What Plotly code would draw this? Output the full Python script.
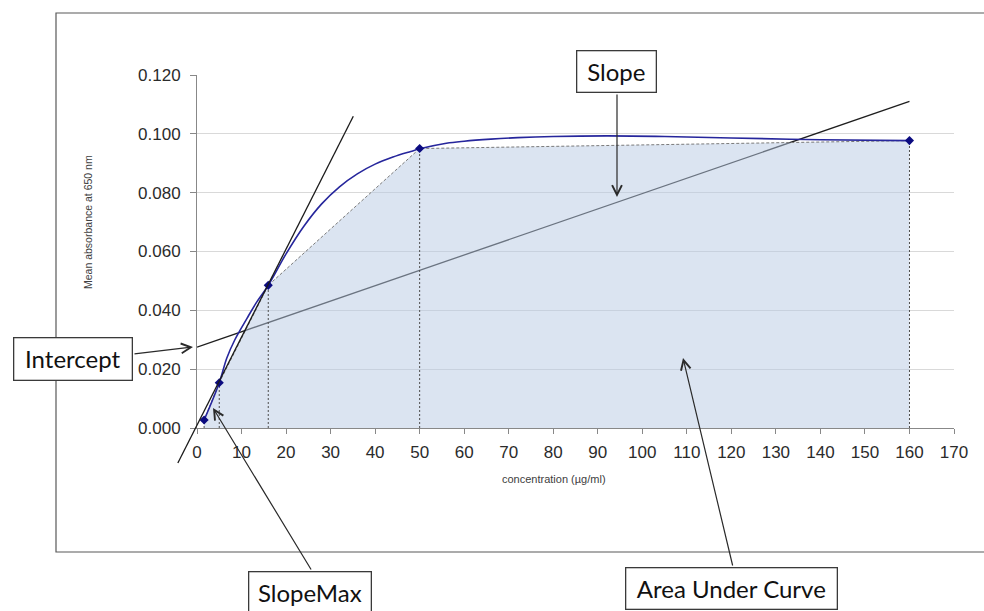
import plotly.graph_objects as go

# Measured absorbance at each concentration
conc = [1.6, 5, 16, 50, 160]
absorbance = [0.0027, 0.0154, 0.0485, 0.0950, 0.0977]

# Smoothed response curve, sampled along its length
curve_x = [1.6, 5, 6.7, 8.5, 11.2, 13.4, 16, 20, 24, 28, 32, 36, 40, 44,
           48, 50, 56, 60, 66, 72, 80, 92, 105, 120, 140, 160]
curve_y = [0.0027, 0.0154, 0.0238, 0.0300, 0.0372, 0.0428, 0.0485, 0.0592,
           0.0686, 0.0762, 0.0820, 0.0864, 0.0897, 0.0921, 0.0940, 0.0949,
           0.0968, 0.0975, 0.0982, 0.0987, 0.0991, 0.0993, 0.0991, 0.0986,
           0.0980, 0.0977]

# Linear regression line across the data ("Slope" / "Intercept")
slope_x = [0, 160]
slope_y = [0.0275, 0.1110]

# Steepest tangent line through the 5 and 16 µg/ml points ("SlopeMax")
smax_x = [-4.3, 35.1]
smax_y = [-0.0119, 0.1060]

x_ticks = list(range(0, 171, 10))
y_ticks = [0.000, 0.020, 0.040, 0.060, 0.080, 0.100, 0.120]

X_RANGE = [0, 170]
Y_RANGE = [0, 0.12]

# page and plot-area geometry (pixels)
W, H = 984, 611
L, R, T, B = 197, 954, 75, 428


def px_x(p):
    return (p - L) / (R - L)


def px_y(p):
    return (B - p) / (B - T)


def dx(v):
    return (v - X_RANGE[0]) / (X_RANGE[1] - X_RANGE[0])


def dy(v):
    return (v - Y_RANGE[0]) / (Y_RANGE[1] - Y_RANGE[0])


fig = go.Figure()

# regression line (sits under the translucent area fill)
fig.add_trace(go.Scatter(
    x=slope_x, y=slope_y, mode="lines",
    line=dict(color="#1e1e1e", width=1.3),
    hoverinfo="skip", showlegend=False,
))

# trapezoid area under the measured points
fig.add_trace(go.Scatter(
    x=conc, y=absorbance, mode="lines", fill="tozeroy",
    fillcolor="rgba(184,202,227,0.5)",
    line=dict(color="#7a7a7a", width=1, dash="3px,2px"),
    hoverinfo="skip", showlegend=False,
))

# vertical dividers of the trapezoids
vx, vy = [], []
for c, a in zip(conc, absorbance):
    vx += [c, c, None]
    vy += [0, a, None]
fig.add_trace(go.Scatter(
    x=vx, y=vy, mode="lines",
    line=dict(color="#4d4d4d", width=1, dash="2px,2px"),
    hoverinfo="skip", showlegend=False,
))

# smoothed response curve
fig.add_trace(go.Scatter(
    x=curve_x, y=curve_y, mode="lines",
    line=dict(color="#26269c", width=1.6, shape="spline", smoothing=1.0),
    hoverinfo="skip", showlegend=False,
))

# measured points
fig.add_trace(go.Scatter(
    x=conc, y=absorbance, mode="markers",
    marker=dict(symbol="diamond", size=7, color="#0b0b80"),
    showlegend=False,
))

shapes = [
    # outer chart frame
    dict(type="rect", xref="paper", yref="paper",
         x0=px_x(56), x1=px_x(1000), y0=px_y(552), y1=px_y(13),
         line=dict(color="#595959", width=1.2), layer="below"),
    # SlopeMax tangent, allowed to run past the plot area
    dict(type="line", xref="paper", yref="paper",
         x0=dx(smax_x[0]), y0=dy(smax_y[0]),
         x1=dx(smax_x[1]), y1=dy(smax_y[1]),
         line=dict(color="#1a1a1a", width=1.3), layer="above"),
]

box_font = dict(family="Lato, Open Sans, sans-serif", size=24, color="#111111")
annotations = []

# labelled boxes: (text, left, top, right, bottom)
boxes = [
    ("Intercept", 13, 337, 133, 381),
    ("Slope", 576, 50, 657, 93),
    ("SlopeMax", 248, 571, 372, 614),
    ("Area Under Curve", 625, 567, 838, 610),
]
for text, x0, y0, x1, y1 in boxes:
    annotations.append(dict(
        text=text, xref="paper", yref="paper",
        x=px_x((x0 + x1) / 2), y=px_y((y0 + y1) / 2),
        xanchor="center", yanchor="middle", showarrow=False,
        width=x1 - x0 - 3, height=y1 - y0 - 3, borderpad=0,
        bordercolor="#3a3a3a", borderwidth=1.3, bgcolor="white",
        font=box_font,
    ))

# pointer arrows: (tail x, tail y, head x, head y)
arrows = [
    (133, 354, 193, 347),
    (617, 93, 617, 197),
    (312, 571, 213, 408),
    (733, 567, 683, 358),
]
for tx, ty, hx, hy in arrows:
    annotations.append(dict(
        text="", xref="paper", yref="paper",
        x=px_x(hx), y=px_y(hy), ax=tx - hx, ay=ty - hy,
        showarrow=True, arrowhead=5, arrowsize=1.6, arrowwidth=1.2,
        arrowcolor="#2a2a2a", standoff=0, startstandoff=0,
        font=dict(size=1),
    ))

# axis titles
annotations.append(dict(
    text="concentration (µg/ml)", xref="paper", yref="paper",
    x=px_x(554), y=px_y(479), showarrow=False,
    xanchor="center", yanchor="middle",
    font=dict(family="Liberation Sans, Arial, sans-serif", size=11, color="#404040"),
))
annotations.append(dict(
    text="Mean absorbance at 650 nm", xref="paper", yref="paper",
    x=px_x(88), y=px_y(222), showarrow=False, textangle=-90,
    xanchor="center", yanchor="middle",
    font=dict(family="Liberation Sans, Arial, sans-serif", size=10.5, color="#404040"),
))

tick_font = dict(family="Liberation Sans, Arial, sans-serif", size=17, color="#2b2b2b")

fig.update_layout(
    width=W, height=H,
    margin=dict(l=L, r=W - R, t=T, b=H - B, pad=0),
    paper_bgcolor="white", plot_bgcolor="white",
    shapes=shapes, annotations=annotations,
    xaxis=dict(
        range=X_RANGE, tickmode="array", tickvals=x_ticks,
        ticktext=[str(v) for v in x_ticks],
        showgrid=False, zeroline=False,
        showline=True, linecolor="#888888", linewidth=1,
        ticks="outside", ticklen=5, tickcolor="#888888",
        tickfont=tick_font, ticklabelstandoff=4,
    ),
    yaxis=dict(
        range=Y_RANGE, tickmode="array", tickvals=y_ticks,
        ticktext=[f"{v:.3f}" for v in y_ticks],
        showgrid=True, gridcolor="#d9d9d9", gridwidth=1,
        zeroline=False,
        showline=True, linecolor="#888888", linewidth=1,
        ticks="outside", ticklen=6, tickcolor="#888888",
        tickfont=tick_font, ticklabelstandoff=6,
    ),
)

fig.write_html("out.html")
